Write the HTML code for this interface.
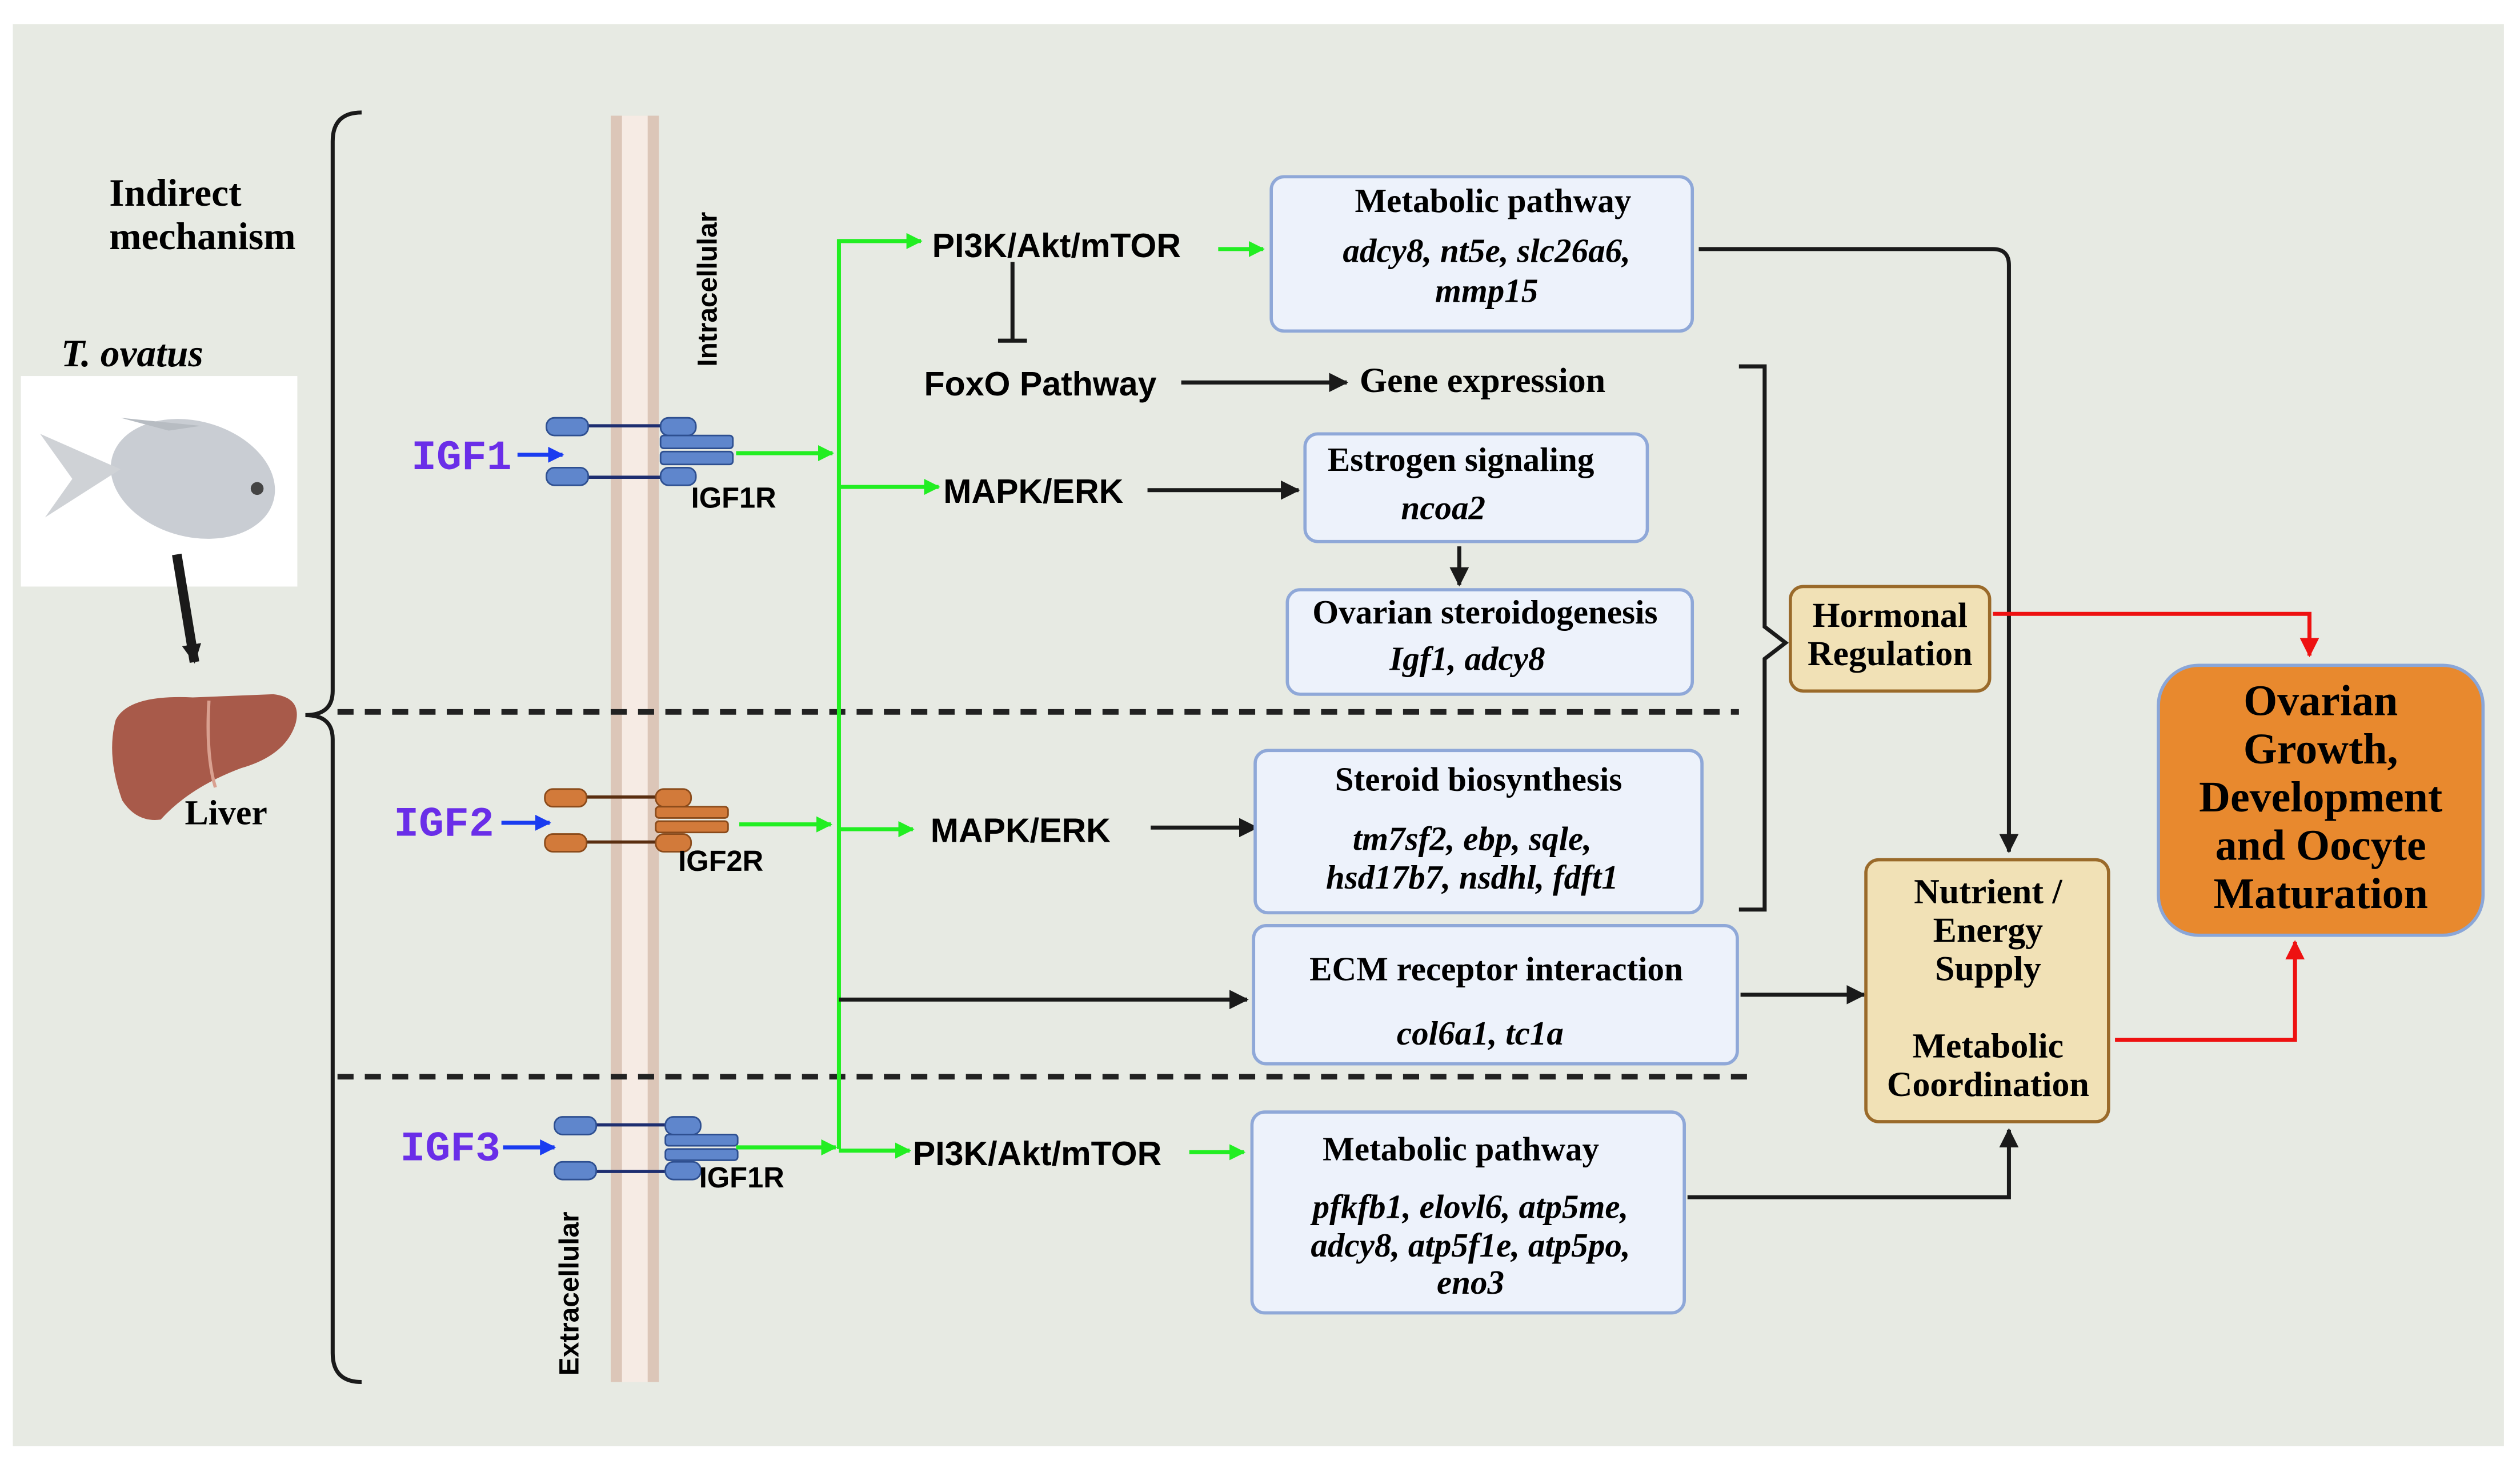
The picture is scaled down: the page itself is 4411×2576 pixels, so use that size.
<!DOCTYPE html>
<html><head><meta charset="utf-8"><style>
html,body{margin:0;padding:0;background:#fff}
svg{display:block}
.s{font-family:"Liberation Serif",serif;font-weight:bold}
.i{font-family:"Liberation Serif",serif;font-weight:bold;font-style:italic}
.a{font-family:"Liberation Sans",sans-serif;font-weight:bold}
</style></head><body>
<svg width="4411" height="2576" viewBox="0 0 1568 916" preserveAspectRatio="none" xmlns="http://www.w3.org/2000/svg">
<defs>
<marker id="g" markerWidth="10" markerHeight="10" refX="9" refY="5" orient="auto" markerUnits="userSpaceOnUse"><path d="M0,0L10,5L0,10z" fill="#22ee22"/></marker>
<marker id="k" markerWidth="12" markerHeight="12" refX="11" refY="6" orient="auto" markerUnits="userSpaceOnUse"><path d="M0,0L12,6L0,12z" fill="#1a1a1a"/></marker>
<marker id="b" markerWidth="10" markerHeight="10" refX="9" refY="5" orient="auto" markerUnits="userSpaceOnUse"><path d="M0,0L10,5L0,10z" fill="#1a3cf0"/></marker>
<marker id="r" markerWidth="12" markerHeight="12" refX="11" refY="6" orient="auto" markerUnits="userSpaceOnUse"><path d="M0,0L12,6L0,12z" fill="#ee1111"/></marker>
</defs>
<rect x="0" y="0" width="1568" height="916" fill="#fff"/>
<rect x="8" y="15" width="1550" height="885" fill="#e7eae3"/>

<!-- brace -->
<path d="M225,70 Q207,70 207,88 L207,430 Q207,445 190,445 Q207,445 207,460 L207,842 Q207,860 225,860" fill="none" stroke="#1a1a1a" stroke-width="2.5"/>
<!-- membrane -->
<rect x="380" y="72" width="30" height="788" fill="#dcc6b8"/>
<rect x="387" y="72" width="16" height="788" fill="#f6ebe4"/>
<text class="a" font-size="17" transform="translate(446,180) rotate(-90)" text-anchor="middle">Intracellular</text>
<text class="a" font-size="17" transform="translate(360,805) rotate(-90)" text-anchor="middle">Extracellular</text>

<text class="s" font-size="24" x="68" y="128">Indirect</text>
<text class="s" font-size="24" x="68" y="155">mechanism</text>
<text class="i" font-size="24" x="38" y="228">T. ovatus</text>
<rect x="13" y="234" width="172" height="131" fill="#fff"/>
<ellipse cx="120" cy="298" rx="52" ry="36" fill="#c9cdd3" transform="rotate(15 120 298)"/>
<path d="M75,292 L25,270 L45,298 L28,322 Z" fill="#cfd2d6"/>
<path d="M105,268 L75,260 L125,265 Z" fill="#b7bcc2"/>
<circle cx="160" cy="304" r="4" fill="#444"/>
<line x1="110" y1="345" x2="121" y2="412" stroke="#1a1a1a" stroke-width="6" marker-end="url(#k)"/>
<path d="M72,448 Q80,432 120,434 L170,432 Q188,434 184,450 Q178,470 150,478 Q118,490 100,510 Q85,512 76,498 Q66,470 72,448Z" fill="#a85a4a"/>
<path d="M130,436 Q128,470 134,490" stroke="#d9a090" stroke-width="2" fill="none"/>
<text class="s" font-size="22" x="115" y="513">Liver</text>

<!-- dashed -->
<line x1="210" y1="443" x2="1082" y2="443" stroke="#222" stroke-width="3.5" stroke-dasharray="10,7"/>
<line x1="210" y1="670" x2="1092" y2="670" stroke="#222" stroke-width="3.5" stroke-dasharray="10,7"/>

<!-- receptors -->
<g fill="#5f86cc" stroke="#2e4f90" stroke-width="1">
<line x1="360" y1="265" x2="420" y2="265" stroke="#1e2e70" stroke-width="2"/>
<line x1="360" y1="297" x2="420" y2="297" stroke="#1e2e70" stroke-width="2"/>
<rect x="340" y="260" width="26" height="11" rx="5"/><rect x="340" y="291" width="26" height="11" rx="5"/>
<rect x="411" y="260" width="22" height="11" rx="5"/><rect x="411" y="291" width="22" height="11" rx="5"/>
<rect x="411" y="271" width="45" height="8" rx="2"/><rect x="411" y="281" width="45" height="8" rx="2"/>
<line x1="364" y1="700" x2="424" y2="700" stroke="#1e2e70" stroke-width="2"/>
<line x1="364" y1="729" x2="424" y2="729" stroke="#1e2e70" stroke-width="2"/>
<rect x="345" y="695" width="26" height="11" rx="5"/><rect x="345" y="723" width="26" height="11" rx="5"/>
<rect x="414" y="695" width="22" height="11" rx="5"/><rect x="414" y="723" width="22" height="11" rx="5"/>
<rect x="414" y="706" width="45" height="7" rx="2"/><rect x="414" y="715" width="45" height="7" rx="2"/>
</g>
<g fill="#d27a3a" stroke="#8a4a1a" stroke-width="1">
<line x1="358" y1="496" x2="418" y2="496" stroke="#5a2e10" stroke-width="2"/>
<line x1="358" y1="524" x2="418" y2="524" stroke="#5a2e10" stroke-width="2"/>
<rect x="339" y="491" width="26" height="11" rx="5"/><rect x="339" y="519" width="26" height="11" rx="5"/>
<rect x="408" y="491" width="22" height="11" rx="5"/><rect x="408" y="519" width="22" height="11" rx="5"/>
<rect x="408" y="502" width="45" height="7" rx="2"/><rect x="408" y="511" width="45" height="7" rx="2"/>
</g>
<text class="a" font-size="18" x="430" y="316">IGF1R</text>
<text class="a" font-size="18" x="422" y="542">IGF2R</text>
<text class="a" font-size="18" x="435" y="739">IGF1R</text>

<g font-family="Liberation Mono,monospace" font-weight="bold" font-size="26" fill="#6a2ee8">
<text x="256" y="292">IGF1</text><text x="245" y="520">IGF2</text><text x="249" y="722">IGF3</text></g>
<g stroke="#1a3cf0" stroke-width="2.5" marker-end="url(#b)">
<line x1="322" y1="283" x2="350" y2="283"/><line x1="312" y1="512" x2="342" y2="512"/><line x1="313" y1="714" x2="345" y2="714"/></g>

<!-- green -->
<g stroke="#22ee22" stroke-width="2.5" fill="none">
<path d="M572,150 L522,150 L522,715"/>
<line x1="458" y1="282" x2="518" y2="282" marker-end="url(#g)"/>
<line x1="522" y1="150" x2="573" y2="150" marker-end="url(#g)"/>
<line x1="522" y1="303" x2="584" y2="303" marker-end="url(#g)"/>
<line x1="460" y1="513" x2="517" y2="513" marker-end="url(#g)"/>
<line x1="522" y1="516" x2="568" y2="516" marker-end="url(#g)"/>
<line x1="458" y1="714" x2="520" y2="714" marker-end="url(#g)"/>
<line x1="522" y1="716" x2="566" y2="716" marker-end="url(#g)"/>
<line x1="758" y1="155" x2="786" y2="155" marker-end="url(#g)"/>
<line x1="740" y1="717" x2="774" y2="717" marker-end="url(#g)"/>
</g>

<g class="a" font-size="21">
<text x="580" y="160">PI3K/Akt/mTOR</text>
<text x="575" y="246">FoxO Pathway</text>
<text x="587" y="313">MAPK/ERK</text>
<text x="579" y="524">MAPK/ERK</text>
<text x="568" y="725">PI3K/Akt/mTOR</text>
</g>
<path d="M630,163 L630,212 M621,212 L639,212" stroke="#1a1a1a" stroke-width="2.5"/>

<g stroke="#1a1a1a" stroke-width="2.5" fill="none" marker-end="url(#k)">
<line x1="735" y1="238" x2="838" y2="238"/>
<line x1="714" y1="305" x2="808" y2="305"/>
<line x1="908" y1="340" x2="908" y2="364"/>
<line x1="716" y1="515" x2="782" y2="515"/>
<line x1="522" y1="622" x2="776" y2="622"/>
<path d="M1057,155 L1240,155 Q1250,155 1250,165 L1250,530"/>
<line x1="1083" y1="619" x2="1160" y2="619"/>
<path d="M1050,745 L1250,745 L1250,703"/>
</g>
<text class="s" font-size="22" x="846" y="244">Gene expression</text>

<!-- boxes -->
<g fill="#edf2fb" stroke="#8fa8d8" stroke-width="2">
<rect x="791" y="110" width="262" height="96" rx="8"/>
<rect x="812" y="270" width="213" height="67" rx="8"/>
<rect x="801" y="367" width="252" height="65" rx="8"/>
<rect x="781" y="467" width="278" height="101" rx="8"/>
<rect x="780" y="576" width="301" height="86" rx="8"/>
<rect x="779" y="692" width="269" height="125" rx="8"/>
</g>
<g class="s" font-size="21" text-anchor="middle">
<text x="929" y="132">Metabolic pathway</text>
<text x="909" y="293">Estrogen signaling</text>
<text x="924" y="388">Ovarian steroidogenesis</text>
<text x="920" y="492">Steroid biosynthesis</text>
<text x="931" y="610">ECM receptor interaction</text>
<text x="909" y="722">Metabolic pathway</text>
</g>
<g class="i" font-size="21" text-anchor="middle">
<text x="925" y="163">adcy8, nt5e, slc26a6,</text>
<text x="925" y="188">mmp15</text>
<text x="898" y="323">ncoa2</text>
<text x="913" y="417">Igf1, adcy8</text>
<text x="916" y="529">tm7sf2, ebp, sqle,</text>
<text x="916" y="553">hsd17b7, nsdhl, fdft1</text>
<text x="921" y="650">col6a1, tc1a</text>
<text x="915" y="758">pfkfb1, elovl6, atp5me,</text>
<text x="915" y="782">adcy8, atp5f1e, atp5po,</text>
<text x="915" y="805">eno3</text>
</g>

<!-- right bracket -->
<path d="M1082,228 L1098,228 L1098,390 L1111,400 L1098,410 L1098,566 L1082,566" fill="none" stroke="#1a1a1a" stroke-width="2.5"/>

<g fill="#f1e1b6" stroke="#9a6a2a" stroke-width="2">
<rect x="1114" y="365" width="124" height="65" rx="8"/>
<rect x="1161" y="535" width="151" height="163" rx="8"/>
</g>
<g class="s" font-size="22" text-anchor="middle">
<text x="1176" y="390">Hormonal</text><text x="1176" y="414">Regulation</text>
<text x="1237" y="562">Nutrient /</text><text x="1237" y="586">Energy</text><text x="1237" y="610">Supply</text>
<text x="1237" y="658">Metabolic</text><text x="1237" y="682">Coordination</text>
</g>
<g stroke="#ee1111" stroke-width="2.5" fill="none" marker-end="url(#r)">
<path d="M1240,382 L1437,382 L1437,408"/>
<path d="M1316,647 L1428,647 L1428,586"/>
</g>
<rect x="1343" y="414" width="202" height="168" rx="25" fill="#e8892e" stroke="#8aa6d8" stroke-width="2"/>
<g class="s" font-size="27" text-anchor="middle">
<text x="1444" y="445">Ovarian</text><text x="1444" y="475">Growth,</text><text x="1444" y="505">Development</text><text x="1444" y="535">and Oocyte</text><text x="1444" y="565">Maturation</text>
</g>
</svg>
</body></html>
